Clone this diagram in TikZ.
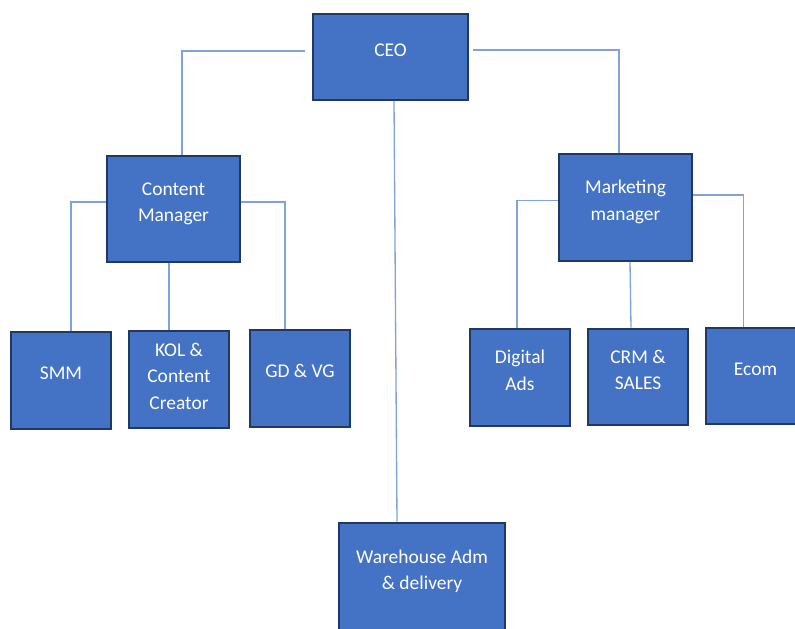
\documentclass[tikz,border=0pt]{standalone}
\usepackage{fontspec}
\setmainfont{Carlito}
\usepackage{tikz}
\usetikzlibrary{positioning}
\definecolor{boxblue}{HTML}{4472C4}
\definecolor{boxline}{HTML}{1F3864}
\definecolor{linkblue}{HTML}{7FA1DC}
% text in a box, lifted a little as in the office chart
\newcommand{\lbl}[2][4.5pt]{\raisebox{#1}[\height][\depth]{\begin{tabular}{@{}c@{}}#2\end{tabular}}}
\tikzstyle{unit} = [rectangle, 
draw=boxline, 
line width=1.5pt, 
fill=boxblue, 
text=white, 
inner sep=0pt, 
font=\fontsize{14.6pt}{19.9pt}\selectfont]
\tikzstyle{head} = [unit, minimum width=116.5pt, minimum height=64.5pt]
\tikzstyle{manager} = [unit, minimum width=100pt, minimum height=80pt]
\tikzstyle{team} = [unit, minimum width=74.5pt, minimum height=72.5pt]
\tikzstyle{store} = [unit, minimum width=124pt, minimum height=81.5pt]
\tikzstyle{link} = [draw=linkblue, line width=1pt]

\begin{document}
\begin{tikzpicture}[x=0.75pt, y=-0.75pt]
\useasboundingbox (0,0) rectangle (795,628);
\clip (0,0) rectangle (795,628);

\node (ceo) [head] at (390.5,57) {\lbl{CEO}};

\node (content) [manager] at (173.5,209) {\lbl{Content\\Manager}};
\node (marketing) [manager] at (625.5,207.5) {\lbl{Marketing\\manager}};

\node (smm) [team] at (61,380.5) {\lbl{SMM}};
\node (kol) [team] at (179,379.5) {\lbl[1.5pt]{KOL \&\\Content\\Creator}};
\node (gd) [team] at (300,378.3) {\lbl{GD \& VG}};

\node (ads) [team] at (520,377.5) {\lbl{Digital\\Ads}};
\node (crm) [team] at (638,377) {\lbl{CRM \&\\SALES}};
\node (ecom) [team] at (755.5,376) {\lbl{Ecom}};

\node (warehouse) [store] at (422,577) {\lbl{Warehouse Adm\\\& delivery}};

\draw [link] ([shift={(-7,-6)}]ceo.west) -| ([shift={(8.5,0)}]content.north);
\draw [link] ([shift={(4,-7)}]ceo.east) -| ([shift={(-6.5,0)}]marketing.north);
\draw [link] ([shift={(3.5,0)}]ceo.south) -- ([shift={(-25,0)}]warehouse.north);
\draw [link] ([shift={(0,-7)}]content.west) -| ([shift={(10,0)}]smm.north);
\draw [link] ([shift={(-4.5,0)}]content.south) -- ([shift={(-10,0)}]kol.north);
\draw [link] ([shift={(0,-7)}]content.east) -| ([shift={(-15,0)}]gd.north);
\draw [link] ([shift={(0,-7)}]marketing.west) -| ([shift={(-3,0)}]ads.north);
\draw [link] ([shift={(4.5,0)}]marketing.south) -- ([shift={(-7,0)}]crm.north);
\draw [link] ([shift={(0,-12.5)}]marketing.east) -| ([shift={(-12,0)}]ecom.north);

\end{tikzpicture}
\end{document}
